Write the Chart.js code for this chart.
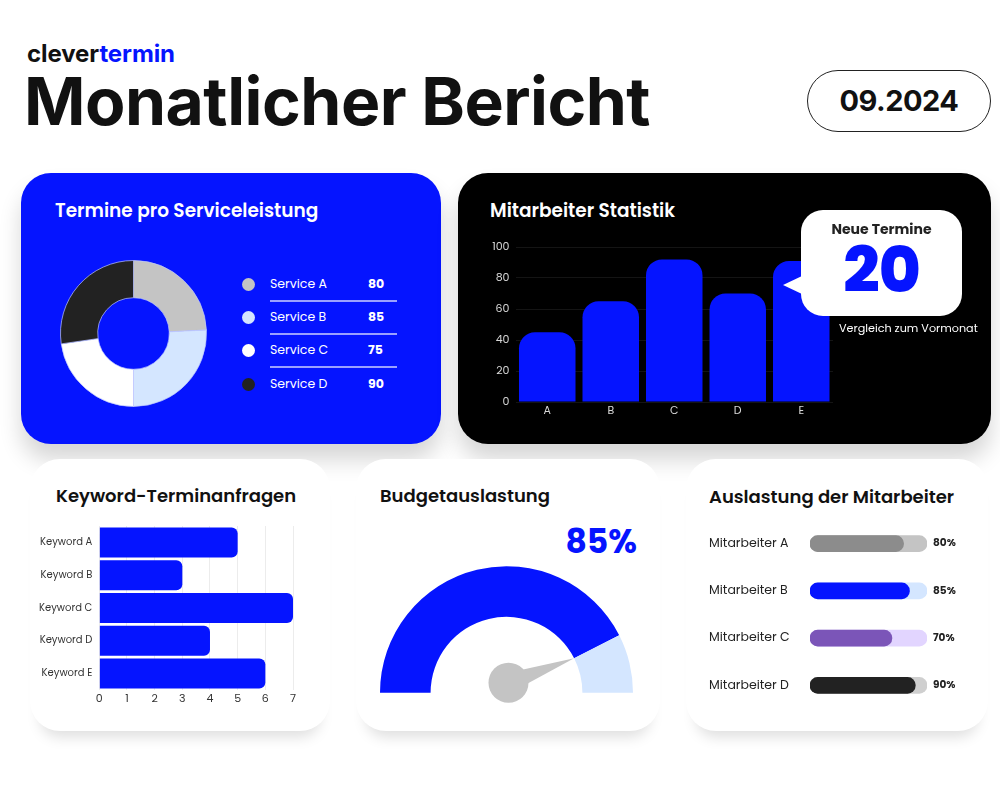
<!DOCTYPE html>
<html lang="de">
<head>
<meta charset="utf-8">
<title>Monatlicher Bericht</title>
<script src="https://cdn.jsdelivr.net/npm/chart.js@4.4.1/dist/chart.umd.min.js"></script>
<style>
  body { margin: 0; width: 1000px; height: 800px; background: #fff; position: relative; overflow: hidden;
         font-family: Poppins, Inter, sans-serif; color: #111; }
  .abs { position: absolute; }
  .card { position: absolute; border-radius: 30px; }
  .title { position: absolute; font-weight: 600; font-size: 18px; line-height: 20px; white-space: nowrap; }
  .title.top { font-size: 18.5px; }
  canvas { position: absolute; }
  #brand { left: 27px; top: 42px; font: 700 24px/24px Inter, sans-serif; letter-spacing: -0.1px; }
  #brand span { color: #0514ff; }
  #headline { left: 24px; top: 63px; font: 700 66px/76px Inter, sans-serif; letter-spacing: -0.5px; white-space: nowrap; }
  #datepill { left: 807px; top: 70px; width: 182px; height: 60px; border: 1.3px solid #222; border-radius: 31px;
              font: 700 29px/60px Inter, sans-serif; text-align: center; letter-spacing: -0.5px; }
  .legend-row { position: absolute; left: 242px; width: 160px; height: 20px; font-size: 12.5px; line-height: 20px; color: #fff; }
  .legend-row i { position: absolute; left: 0; top: 3.5px; width: 13px; height: 13px; border-radius: 50%; }
  .legend-row .lbl { position: absolute; left: 28px; }
  .legend-row .val { position: absolute; left: 126px; font-weight: 700; }
  .sep { position: absolute; left: 270px; width: 127px; height: 1.5px; background: rgba(255,255,255,0.6); }
</style>
</head>
<body>

<div class="abs" id="brand">clever<span>termin</span></div>
<div class="abs" id="headline">Monatlicher Bericht</div>
<div class="abs" id="datepill">09.2024</div>

<!-- top row -->
<div class="card" style="left:21px;top:173px;width:420px;height:271px;background:#0514ff;box-shadow:0 16px 22px rgba(0,0,0,0.16);"></div>
<div class="card" style="left:458px;top:173px;width:533px;height:271px;background:#000;box-shadow:0 16px 22px rgba(0,0,0,0.16);"></div>

<!-- bottom row -->
<div class="card" style="left:30px;top:459px;width:300px;height:272px;background:#fff;box-shadow:0 16px 14px -10px rgba(0,0,0,0.13);"></div>
<div class="card" style="left:356px;top:459px;width:304px;height:272px;background:#fff;box-shadow:0 16px 14px -10px rgba(0,0,0,0.13);"></div>
<div class="card" style="left:686px;top:459px;width:302px;height:272px;background:#fff;box-shadow:0 16px 14px -10px rgba(0,0,0,0.13);"></div>

<div class="title top" style="left:55px;top:201px;color:#fff;">Termine pro Serviceleistung</div>
<div class="title top" style="left:490px;top:201px;color:#fff;">Mitarbeiter Statistik</div>
<div class="title" style="left:56px;top:486px;">Keyword-Terminanfragen</div>
<div class="title" style="left:380px;top:486px;">Budgetauslastung</div>
<div class="title" style="left:709px;top:487px;">Auslastung der Mitarbeiter</div>

<canvas id="services" width="147" height="147" style="left:60px;top:260px;"></canvas>
<div id="serviceLegend"></div>

<canvas id="staff" width="360" height="188" style="left:480px;top:234px;"></canvas>

<!-- callout -->
<div class="abs" style="left:783px;top:276px;width:0;height:0;border-top:9px solid transparent;border-bottom:9px solid transparent;border-right:19px solid #fff;"></div>
<div class="abs" style="left:801px;top:210px;width:161px;height:106px;background:#fff;border-radius:22px;"></div>
<div class="abs" style="left:801px;top:220px;width:161px;text-align:center;font-weight:700;font-size:14px;line-height:18px;color:#222;">Neue Termine</div>
<div class="abs" id="neue" style="left:801px;top:236px;width:161px;text-align:center;font-weight:800;font-size:64px;line-height:68px;color:#0514ff;letter-spacing:-1px;"></div>
<div class="abs" style="left:839px;top:320px;width:150px;font-size:11.2px;line-height:16px;color:#fff;">Vergleich zum Vormonat</div>

<canvas id="keywords" width="270" height="198" style="left:30px;top:512px;"></canvas>

<div class="abs" id="budgetText" style="left:557px;top:522px;width:80px;text-align:right;font-weight:700;font-size:33px;line-height:40px;color:#0514ff;"></div>
<canvas id="budget" width="273" height="150" style="left:370px;top:556px;"></canvas>

<canvas id="workers" width="268" height="217" style="left:709px;top:506px;"></canvas>

<script>
"use strict";

// Termine pro Serviceleistung
const serviceLabels = ["Service A", "Service B", "Service C", "Service D"];
const serviceValues = [80, 85, 75, 90];
const serviceColors = ["#c4c4c4", "#d4e6ff", "#ffffff", "#222222"];

// Mitarbeiter Statistik
const staffLabels = ["A", "B", "C", "D", "E"];
const staffValues = [45, 65, 92, 70, 91];
const neueTermine = 20;

// Keyword-Terminanfragen
const keywordLabels = ["Keyword A", "Keyword B", "Keyword C", "Keyword D", "Keyword E"];
const keywordValues = [5, 3, 7, 4, 6];

// Budgetauslastung (used, rest)
const budgetParts = [85, 15];
const budgetColors = ["#0514ff", "#d4e6ff"];

// Auslastung der Mitarbeiter
const workerLabels = ["Mitarbeiter A", "Mitarbeiter B", "Mitarbeiter C", "Mitarbeiter D"];
const workerValues = [80, 85, 70, 90];
const workerMax = [100, 100, 100, 100];
const workerColors = ["#8c8c8c", "#0514ff", "#7b55b8", "#222222"];
const workerTrackColors = ["#c4c4c4", "#d4e6ff", "#e2d5ff", "#cfcfcf"];

const BLUE = "#0514ff";

Chart.defaults.font.family = "Poppins, Inter, sans-serif";
Chart.defaults.animation = false;
Chart.defaults.plugins.legend.display = false;
Chart.defaults.plugins.tooltip.enabled = false;

// html legend for the services
var legend = document.getElementById("serviceLegend");
var rowTops = [274, 307, 340, 374];
serviceLabels.forEach((label, i) => {
  let row = document.createElement("div");
  row.className = "legend-row";
  row.style.top = rowTops[i] + "px";
  row.innerHTML = '<i style="background:' + serviceColors[i] + '"></i><span class="lbl">' + label +
    '</span><span class="val">' + serviceValues[i] + "</span>";
  legend.appendChild(row);
  if (i < serviceLabels.length - 1) {
    let sep = document.createElement("div");
    sep.className = "sep";
    sep.style.top = (rowTops[i] + 26) + "px";
    legend.appendChild(sep);
  }
});

document.getElementById("neue").textContent = neueTermine;
document.getElementById("budgetText").textContent = budgetParts[0] + "%";

new Chart(document.getElementById("services"), {
  type: "doughnut",
  data: {
    labels: serviceLabels,
    datasets: [{
      data: serviceValues,
      backgroundColor: serviceColors,
      borderColor: "rgba(190,200,255,0.7)",
      borderWidth: 1,
    }],
  },
  options: { responsive: false, cutout: "49%" },
});

new Chart(document.getElementById("staff"), {
  type: "bar",
  data: {
    labels: staffLabels,
    datasets: [{
      data: staffValues,
      backgroundColor: BLUE,
      borderRadius: 16,
      barPercentage: 0.89,
      categoryPercentage: 1,
    }],
  },
  options: {
    responsive: false,
    layout: { padding: { top: 13, right: 7, left: 0, bottom: 0 } },
    scales: {
      x: {
        grid: { display: false, drawTicks: false },
        border: { display: false },
        ticks: { color: "#d8d8d8", font: { size: 11 }, padding: 3 },
        afterFit: (s) => { s.height = 20; },
      },
      y: {
        min: 0,
        max: 100,
        grid: { color: "rgba(255,255,255,0.08)", drawTicks: false },
        border: { display: false },
        ticks: { stepSize: 20, color: "#d8d8d8", font: { size: 11 }, padding: 6 },
        afterFit: (s) => { s.width = 35.5; },
      },
    },
  },
});

new Chart(document.getElementById("keywords"), {
  type: "bar",
  data: {
    labels: keywordLabels,
    datasets: [{
      data: keywordValues,
      backgroundColor: BLUE,
      borderRadius: 6,
      barPercentage: 0.915,
      categoryPercentage: 1,
    }],
  },
  options: {
    indexAxis: "y",
    responsive: false,
    layout: { padding: { top: 14, right: 7, left: 0, bottom: 0 } },
    scales: {
      x: {
        min: 0,
        max: 7,
        grid: { color: "#ececec", drawTicks: false },
        border: { display: false },
        ticks: { stepSize: 1, color: "#333", font: { size: 11 }, padding: 3 },
        afterFit: (s) => { s.height = 20; },
      },
      y: {
        grid: { display: false, drawTicks: false },
        border: { display: false },
        ticks: { color: "#333", font: { size: 10 }, padding: 7 },
        afterFit: (s) => { s.width = 69.3; },
      },
    },
  },
});

// gauge needle, drawn from the first arc's end angle
const needle = {
  id: "needle",
  afterDatasetsDraw(chart) {
    const arc = chart.getDatasetMeta(0).data[0];
    const { x, y, endAngle, innerRadius } = arc.getProps(["x", "y", "endAngle", "innerRadius"], true);
    const hx = x + 2, hy = y - 10;
    const tx = x + Math.cos(endAngle) * innerRadius;
    const ty = y + Math.sin(endAngle) * innerRadius;
    const a = Math.atan2(ty - hy, tx - hx);
    const ctx = chart.ctx;
    ctx.save();
    ctx.fillStyle = "#c4c4c4";
    ctx.beginPath();
    ctx.moveTo(tx, ty);
    ctx.lineTo(hx + Math.cos(a + Math.PI / 2) * 10, hy + Math.sin(a + Math.PI / 2) * 10);
    ctx.lineTo(hx + Math.cos(a - Math.PI / 2) * 10, hy + Math.sin(a - Math.PI / 2) * 10);
    ctx.closePath();
    ctx.fill();
    ctx.beginPath();
    ctx.arc(hx, hy, 20, 0, Math.PI * 2);
    ctx.fill();
    ctx.restore();
  },
};

new Chart(document.getElementById("budget"), {
  type: "doughnut",
  data: {
    labels: ["genutzt", "frei"],
    datasets: [{ data: budgetParts, backgroundColor: budgetColors, borderWidth: 0 }],
  },
  options: {
    responsive: false,
    rotation: -90,
    circumference: 180,
    cutout: "60%",
    layout: { padding: { top: 10, left: 10, right: 10, bottom: 13 } },
  },
  plugins: [needle],
});

new Chart(document.getElementById("workers"), {
  type: "bar",
  data: {
    labels: workerLabels,
    datasets: [
      {
        data: workerValues,
        backgroundColor: workerColors,
        borderRadius: 8,
        borderSkipped: false,
        barThickness: 16,
        grouped: false,
        order: 0,
      },
      {
        data: workerMax,
        backgroundColor: workerTrackColors,
        borderRadius: 8,
        borderSkipped: false,
        barThickness: 16,
        grouped: false,
        order: 1,
      },
    ],
  },
  options: {
    indexAxis: "y",
    responsive: false,
    layout: { padding: { top: 14, bottom: 14, left: 0, right: 0 } },
    scales: {
      x: { display: false, min: 0, max: 100 },
      y: {
        offset: true,
        grid: { display: false, drawTicks: false },
        border: { display: false },
        ticks: { crossAlign: "far", color: "#222", font: { size: 12.5 }, padding: 0 },
        afterFit: (s) => { s.width = 101; },
      },
      y2: {
        type: "category",
        position: "right",
        offset: true,
        labels: workerValues.map((v) => v + "%"),
        grid: { display: false, drawTicks: false },
        border: { display: false },
        ticks: { color: "#222", font: { size: 10.5, weight: "bold" }, padding: 6 },
        afterFit: (s) => { s.width = 50; },
      },
    },
  },
});
</script>
</body>
</html>
